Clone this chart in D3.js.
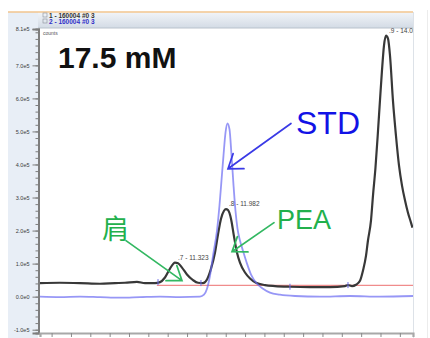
<!DOCTYPE html>
<html>
<head>
<meta charset="utf-8">
<script src="https://cdn.jsdelivr.net/npm/d3@7/dist/d3.min.js"></script>
<style>
  body { margin: 0; background: #fff; }
  svg { display: block; font-family: "Liberation Sans", Arial, sans-serif; }
</style>
</head>
<body>
<div id="chart"></div>
<script>
// retention time (min), intensity (counts)
var sampleTrace = [
  [9.600, 0.41e5], [9.858, 0.42e5], [10.117, 0.41e5], [10.375, 0.39e5], [10.569, 0.41e5],
  [10.698, 0.42e5], [10.853, 0.45e5], [10.957, 0.41e5], [11.086, 0.41e5], [11.151, 0.44e5],
  [11.215, 0.58e5], [11.280, 0.85e5], [11.344, 1.03e5], [11.383, 1.01e5], [11.435, 0.88e5],
  [11.499, 0.67e5], [11.577, 0.50e5], [11.642, 0.42e5], [11.706, 0.41e5], [11.758, 0.52e5],
  [11.810, 0.85e5], [11.861, 1.33e5], [11.900, 1.88e5], [11.939, 2.36e5], [11.978, 2.60e5],
  [12.003, 2.65e5], [12.029, 2.62e5], [12.068, 2.36e5], [12.107, 1.82e5], [12.146, 1.33e5],
  [12.184, 1.03e5], [12.249, 0.73e5], [12.314, 0.55e5], [12.391, 0.42e5], [12.507, 0.35e5],
  [12.637, 0.32e5], [12.830, 0.30e5], [13.089, 0.29e5], [13.347, 0.29e5], [13.541, 0.32e5],
  [13.580, 0.35e5], [13.632, 0.32e5], [13.683, 0.36e5], [13.735, 0.48e5], [13.774, 0.79e5],
  [13.813, 1.24e5], [13.838, 1.70e5], [13.877, 2.30e5], [13.903, 3.06e5], [13.935, 3.90e5],
  [13.968, 5.02e5], [13.993, 5.93e5], [14.019, 6.84e5], [14.045, 7.60e5], [14.071, 7.90e5],
  [14.097, 7.81e5], [14.123, 7.29e5], [14.161, 5.93e5], [14.200, 4.87e5], [14.239, 3.97e5],
  [14.278, 3.36e5], [14.317, 2.91e5], [14.355, 2.54e5], [14.394, 2.24e5], [14.413, 2.09e5]
];

var stdTrace = [
  [9.600, 0.00e5], [9.858, -0.015e5], [10.117, 0.00e5], [10.375, -0.015e5], [10.634, -0.03e5],
  [10.892, -0.015e5], [11.151, 0.00e5], [11.409, -0.015e5], [11.667, 0.00e5], [11.719, 0.06e5],
  [11.758, 0.24e5], [11.797, 0.64e5], [11.836, 1.24e5], [11.887, 2.00e5], [11.919, 2.75e5],
  [11.945, 3.51e5], [11.971, 4.27e5], [11.997, 4.96e5], [12.023, 5.24e5], [12.049, 5.06e5],
  [12.075, 4.27e5], [12.101, 3.36e5], [12.126, 2.60e5], [12.152, 2.06e5], [12.184, 1.70e5],
  [12.223, 1.39e5], [12.275, 1.00e5], [12.327, 0.67e5], [12.404, 0.39e5], [12.482, 0.24e5],
  [12.572, 0.12e5], [12.701, 0.06e5], [12.895, 0.02e5], [13.218, 0.00e5], [13.606, 0.02e5],
  [13.993, 0.00e5], [14.420, 0.02e5]
];

var baselineLine = [[11.11, 0.34e5], [14.42, 0.34e5]];
var integrationMarks = [[11.125, 0.44e5], [11.68, 0.41e5], [12.83, 0.30e5], [13.58, 0.35e5]];

var peakTimes = [11.344, 12.003, 14.071];
var peakHeights = [1.03e5, 2.65e5, 7.90e5];
var peakLabels = ["7 - 11.323", "8 - 11.982", "9 - 14.036"];

var yMajorTicks = [-1e5, 0, 1e5, 2e5, 3e5, 4e5, 5e5, 6e5, 7e5, 8.1e5];
var traceNames = ["1 - 160004 #0 3", "2 - 160004 #0 3"];
var titleText = "17.5 mM";

// annotation text + arrow anchors, in data units
var noteTexts = ["STD", "PEA", "\u80A9"];
var noteTextAt = [[12.908, 4.93e5], [12.662, 2.06e5], [10.401, 1.755e5]];
var noteTips = [[12.029, 3.87e5], [12.081, 1.36e5], [11.435, 0.484e5]];
var noteTails = [[12.843, 5.24e5], [12.624, 2.24e5], [10.711, 1.695e5]];

var W = 430, H = 338;
var margin = {top: 29, right: 17, bottom: 5, left: 40};

var svg = d3.select('#chart').append('svg')
    .attr('width', W).attr('height', H);

var x = d3.scaleLinear().domain([9.6, 14.42]).range([margin.left, W - margin.right]);
var y = d3.scaleLinear().domain([-1.1e5, 8.1e5]).range([H - margin.bottom, margin.top]);

// window chrome
var defs = svg.append('defs');
var grad = defs.append('linearGradient').attr('id', 'hdr').attr('x1', 0).attr('y1', 0).attr('x2', 0).attr('y2', 1);
grad.append('stop').attr('offset', '0%').attr('stop-color', '#f1f4f8');
grad.append('stop').attr('offset', '100%').attr('stop-color', '#d3dbe5');
defs.append('clipPath').attr('id', 'plotClip').append('rect')
    .attr('x', margin.left).attr('y', margin.top - 6)
    .attr('width', W - margin.left - margin.right).attr('height', H - margin.top - margin.bottom + 6);

svg.append('rect').attr('x', 8).attr('y', 12).attr('width', 30).attr('height', H - 12).attr('fill', '#e8eef6');
svg.append('rect').attr('x', 38).attr('y', 12.5).attr('width', 375).attr('height', 15.5).attr('fill', 'url(#hdr)');
svg.append('line').attr('x1', 38).attr('x2', 413).attr('y1', 28).attr('y2', 28).attr('stroke', '#b9c2cc');
svg.append('line').attr('x1', 8).attr('x2', 413).attr('y1', 12).attr('y2', 12).attr('stroke', '#f2c58e').attr('stroke-width', 1.5);
svg.append('line').attr('x1', 413.5).attr('x2', 413.5).attr('y1', 12).attr('y2', H).attr('stroke', '#dde2e8');
svg.append('line').attr('x1', 427.5).attr('x2', 427.5).attr('y1', 10).attr('y2', H).attr('stroke', '#ececec');

traceNames.forEach(function(n, i) {
    svg.append('rect').attr('x', 43).attr('y', 13 + i * 6).attr('width', 4).attr('height', 4)
        .attr('fill', 'none').attr('stroke', '#8a9099').attr('stroke-width', 0.6);
    svg.append('text').attr('x', 49).attr('y', 17.5 + i * 6)
        .attr('font-size', 6.5).attr('font-weight', 'bold')
        .attr('fill', i === 0 ? '#333' : '#3030c8').text(n);
});

svg.append('text').attr('x', 43).attr('y', 35).attr('font-size', 5).attr('fill', '#555').text('counts');

// axes
var yFmt = function(d) { return d === 0 ? '0.0e0' : (d / 1e5).toFixed(1) + 'e5'; };

var yMinor = d3.range(-5, 41).map(function(i) { return i * 0.2e5; })
    .filter(function(d) { return d >= -1.1e5 && d <= 8.1e5; });

var yMinorG = svg.append('g').attr('transform', 'translate(38.5,0)')
    .call(d3.axisLeft(y).tickValues(yMinor).tickSize(3).tickFormat(''));
var yAxisG = svg.append('g').attr('transform', 'translate(38.5,0)')
    .call(d3.axisLeft(y).tickValues(yMajorTicks).tickSize(6).tickPadding(3).tickFormat(yFmt));
[yMinorG, yAxisG].forEach(function(g) {
    g.select('.domain').attr('stroke', '#7d7d7d').attr('stroke-width', 2);
    g.selectAll('.tick line').attr('stroke', '#7d7d7d');
});
yAxisG.selectAll('.tick text').attr('font-size', 5.5).attr('fill', '#3a3a3a')
    .attr('font-family', '"Liberation Sans", Arial, sans-serif');

var xTicks = d3.range(39, 58).map(function(i) { return i * 0.25; });
var xAxisG = svg.append('g').attr('transform', 'translate(0,' + (H - margin.bottom) + ')')
    .call(d3.axisBottom(x).tickValues(xTicks).tickSize(4).tickFormat(''));
xAxisG.select('.domain').attr('stroke', '#a8a8a8').attr('stroke-width', 2.2);
xAxisG.selectAll('.tick line').attr('stroke', '#8a8a8a');

// traces
var plot = svg.append('g').attr('clip-path', 'url(#plotClip)');
var line = d3.line()
    .x(function(d) { return x(d[0]); })
    .y(function(d) { return y(d[1]); })
    .curve(d3.curveMonotoneX);

plot.append('path').datum(baselineLine).attr('d', line)
    .attr('fill', 'none').attr('stroke', '#f08c8c').attr('stroke-width', 1.3);

plot.append('path').datum(sampleTrace).attr('d', line)
    .attr('fill', 'none').attr('stroke', '#383838').attr('stroke-width', 2.2);

plot.append('path').datum(stdTrace).attr('d', line)
    .attr('fill', 'none').attr('stroke', '#6b6bf2').attr('stroke-width', 1.8).attr('stroke-opacity', 0.7);

plot.selectAll('.imark').data(integrationMarks).enter().append('line')
    .attr('class', 'imark')
    .attr('x1', function(d) { return x(d[0]); }).attr('x2', function(d) { return x(d[0]); })
    .attr('y1', function(d) { return y(d[1]) - 3; }).attr('y2', function(d) { return y(d[1]) + 3; })
    .attr('stroke', '#6a6ae6').attr('stroke-width', 1);

plot.selectAll('.plabel').data(peakLabels).enter().append('text')
    .attr('class', 'plabel')
    .attr('x', function(d, i) { return x(peakTimes[i]) + 3; })
    .attr('y', function(d, i) { return y(peakHeights[i]) - 3; })
    .attr('font-size', 6.5).attr('fill', '#444').text(function(d) { return '.' + d; });

// title
svg.append('text').attr('x', margin.left + 18).attr('y', 68)
    .attr('font-size', 30).attr('font-weight', 'bold').attr('fill', '#111').text(titleText);

// annotations
var noteColors = ['#1212e6', '#22b04c', '#22b04c'];
var arrowColors = ['#3a3ae6', '#33b862', '#33b862'];
var noteSizes = [32, 27, 27];

noteTexts.forEach(function(t, i) {
    var tip = [x(noteTips[i][0]), y(noteTips[i][1])];
    var tail = [x(noteTails[i][0]), y(noteTails[i][1])];
    var ang = Math.atan2(tail[1] - tip[1], tail[0] - tip[0]);
    var L = 16, s = 0.62;
    var w1 = [tip[0] + L * Math.cos(ang - s), tip[1] + L * Math.sin(ang - s)];
    var w2 = [tip[0] + L * Math.cos(ang + s), tip[1] + L * Math.sin(ang + s)];
    svg.append('path')
        .attr('d', 'M' + tail + 'L' + tip + 'M' + w1 + 'L' + tip + 'L' + w2)
        .attr('fill', 'none').attr('stroke', arrowColors[i]).attr('stroke-width', 1.7)
        .attr('stroke-linecap', 'round');
    svg.append('text')
        .attr('x', x(noteTextAt[i][0])).attr('y', y(noteTextAt[i][1]))
        .attr('font-size', noteSizes[i]).attr('fill', noteColors[i])
        .attr('font-family', i === 2 ? '"Noto Sans CJK SC", sans-serif' : '"Liberation Sans", Arial, sans-serif')
        .text(t);
});
</script>
</body>
</html>
